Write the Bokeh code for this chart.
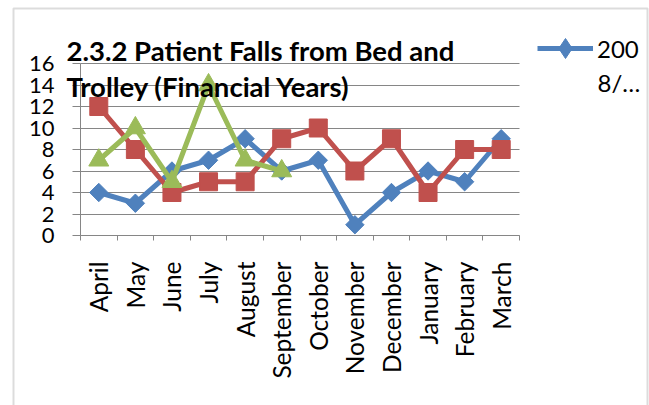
import math
from bokeh.plotting import figure
from bokeh.models import (Range1d, FixedTicker, Label, Legend, LegendItem, BoxAnnotation)
from bokeh.embed import file_html
from bokeh.resources import INLINE

months = ["April", "May", "June", "July", "August", "September", "October",
          "November", "December", "January", "February", "March"]
series_a = [4, 3, 6, 7, 9, 6, 7, 1, 4, 6, 5, 9]          # 2008/...
series_b = [12, 8, 4, 5, 5, 9, 10, 6, 9, 4, 8, 8]
series_c = [7, 10, 5, 14, 7, 6]
y_ticks = [0, 2, 4, 6, 8, 10, 12, 14, 16]
title_lines = ["2.3.2 Patient Falls from Bed and", "Trolley (Financial Years)"]
legend_label = ["200", "8/\u2026"]

FONT = "Lato"
GRAY = "#868686"
BLUE, RED, GREEN = "#4F81BD", "#C0504D", "#9BBB59"

W, H = 649, 405
AX_L, AX_R = 80, 519      # canvas x of the plot area's left / right edge
AX_T, AX_B = 63, 235      # canvas y of the plot area's top / bottom edge
N = len(months)
Y_MAX = y_ticks[-1]

ppx = (AX_R - AX_L) / N
ppy = (AX_B - AX_T) / Y_MAX
x_rng = Range1d(-AX_L / ppx, N + (W - AX_R) / ppx)
y_rng = Range1d(-(H - AX_B) / ppy, Y_MAX + AX_T / ppy)

p = figure(width=W, height=H, output_backend="svg", toolbar_location=None,
           x_range=x_rng, y_range=y_rng, min_border=0)
p.outline_line_color = None
p.background_fill_color = "white"
p.border_fill_color = "white"

xs = [i + 0.5 for i in range(N)]

# grid (horizontal lines limited to the plot area)
p.xgrid.visible = False
yg = p.ygrid[0]
if "cross_bounds" in yg.properties():
    yg.grid_line_color = GRAY
    yg.grid_line_width = 1
    yg.ticker = FixedTicker(ticks=y_ticks)
    yg.bounds = (0, Y_MAX)
    yg.cross_bounds = (0, N)
else:
    yg.visible = False
    p.segment(x0=[0] * len(y_ticks), x1=[N] * len(y_ticks), y0=y_ticks, y1=y_ticks,
              line_color=GRAY, line_width=1, level="underlay")

# x axis
xa = p.xaxis[0]
xa.fixed_location = 0
xa.bounds = (0, N)
xa.ticker = FixedTicker(ticks=xs, minor_ticks=list(range(N + 1)))
xa.major_label_overrides = {x: m for x, m in zip(xs, months)}
xa.major_label_orientation = math.pi / 2
xa.major_tick_line_color = None
xa.major_tick_out = 0
xa.major_tick_in = 0
xa.minor_tick_line_color = GRAY
xa.minor_tick_out = 5
xa.minor_tick_in = 0
xa.axis_line_color = GRAY
xa.major_label_standoff = 21
xa.major_label_text_font = FONT
xa.major_label_text_font_size = "24.5px"
xa.major_label_text_color = "black"

# y axis
ya = p.yaxis[0]
ya.fixed_location = 0
ya.bounds = (0, Y_MAX)
ya.ticker = FixedTicker(ticks=y_ticks)
ya.major_tick_line_color = GRAY
ya.major_tick_out = 8
ya.major_tick_in = 0
ya.minor_tick_line_color = None
ya.axis_line_color = GRAY
ya.major_label_standoff = 18
ya.major_label_text_font = FONT
ya.major_label_text_font_size = "22px"
ya.major_label_text_color = "black"

# series
la = p.line(xs, series_a, line_color=BLUE, line_width=5)
ma = p.scatter(xs, series_a, marker="square", angle=math.pi / 4, size=13,
               fill_color=BLUE, line_color=BLUE)
p.line(xs, series_b, line_color=RED, line_width=5)
p.scatter(xs, series_b, marker="square", size=18, fill_color=RED, line_color=RED)
xc = xs[:len(series_c)]
p.line(xc, series_c, line_color=GREEN, line_width=5)
p.scatter(xc, series_c, marker="triangle", size=20, fill_color=GREEN, line_color=GREEN)

# legend swatch marker: a diamond renderer whose single point lies outside the
# visible ranges, used only so that the legend shows a diamond
lm = p.scatter(x=[x_rng.start - 10], y=[y_rng.start - 10], marker="diamond",
               size=21, fill_color=BLUE, line_color=BLUE)

# legend (screen units relative to the frame's bottom-left)
legend = Legend(items=[LegendItem(label=legend_label[0], renderers=[la, lm])],
                location=(537, H - 73), padding=0, margin=0, spacing=0,
                glyph_width=56, glyph_height=50, label_height=20,
                label_standoff=4, border_line_color=None,
                background_fill_alpha=0, label_text_color="black",
                label_text_font=FONT, label_text_font_size="24px")
p.add_layout(legend)
p.add_layout(Label(x=597, y=H - 82, x_units="screen", y_units="screen",
                   text=legend_label[1], text_font=FONT, text_font_size="24px",
                   text_color="black", text_baseline="alphabetic"))

# title
p.add_layout(Label(x=66, y=H - 50, x_units="screen", y_units="screen",
                   text=title_lines[0], text_font=FONT, text_font_size="27.5px",
                   text_font_style="bold", text_color="black",
                   text_baseline="alphabetic"))
p.add_layout(Label(x=66, y=H - 86, x_units="screen", y_units="screen",
                   text=title_lines[1], text_font=FONT, text_font_size="27.5px",
                   text_font_style="bold", text_color="black",
                   text_baseline="alphabetic"))

# chart area border
p.add_layout(BoxAnnotation(left=13, right=647, top=H - 8, bottom=-10,
                           left_units="screen", right_units="screen",
                           top_units="screen", bottom_units="screen",
                           fill_alpha=0, line_color="#8c8c8c", line_width=2))

open("out.html", "w").write(file_html(p, INLINE))
